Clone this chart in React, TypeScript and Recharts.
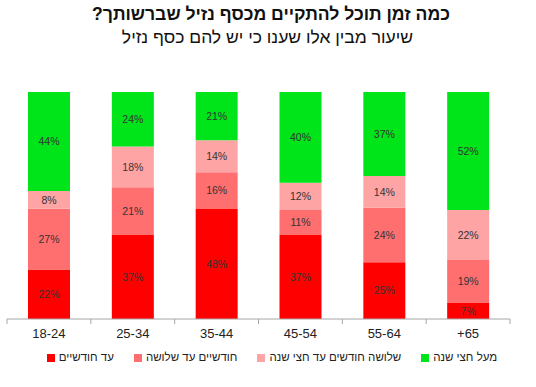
import React from 'react';
import { BarChart, Bar, XAxis, YAxis, Legend, LabelList } from 'recharts';

const ageGroups = ['18-24', '25-34', '35-44', '45-54', '55-64', '+65'];
const upToTwoMonths = [22, 37, 48, 37, 25, 7];
const twoToThreeMonths = [27, 21, 16, 11, 24, 19];
const threeToSixMonths = [8, 18, 14, 12, 14, 22];
const overSixMonths = [44, 24, 21, 40, 37, 52];

const seriesNames = ['עד חודשיים', 'חודשיים עד שלושה', 'שלושה חודשים עד חצי שנה', 'מעל חצי שנה'];
const seriesColors = ['#ff0000', '#ff6f6f', '#ffa4a4', '#00e41a'];

const title = 'כמה זמן תוכל להתקיים מכסף נזיל שברשותך?';
const subtitle = 'שיעור מבין אלו שענו כי יש להם כסף נזיל';

const data = ageGroups.map((age, i) => ({
  age,
  s0: upToTwoMonths[i],
  s1: twoToThreeMonths[i],
  s2: threeToSixMonths[i],
  s3: overSixMonths[i],
}));

const WIDTH = 536;
const HEIGHT = 387;
const margin = { top: 92, right: 26, bottom: 14, left: 7 };
const step = (WIDTH - margin.left - margin.right) / ageGroups.length;

// Excel style: tick marks sit between categories, labels in the middle
function AgeTick(props: any) {
  const { x, y, payload, index } = props;
  return (
    <g>
      <line x1={x - step / 2} x2={x - step / 2} y1={y} y2={y + 5} stroke="#a6a6a6" />
      {index === ageGroups.length - 1 && (
        <line x1={x + step / 2} x2={x + step / 2} y1={y} y2={y + 5} stroke="#a6a6a6" />
      )}
      <text x={x} y={y + 19} textAnchor="middle" fontSize={13} fill="#222" fontFamily="Liberation Sans, Arial, sans-serif">
        {payload.value}
      </text>
    </g>
  );
}

export default function App() {
  return (
    <div style={{ position: 'absolute', left: 0, top: 0, width: WIDTH, height: HEIGHT, background: '#fff', fontFamily: 'Liberation Sans, Arial, sans-serif' }}>
      <div style={{ position: 'absolute', top: 4, left: 0, width: 542, textAlign: 'center', direction: 'rtl', fontSize: 17.6, fontWeight: 'bold', color: '#111' }}>
        {title}
      </div>
      <div style={{ position: 'absolute', top: 27, left: 0, width: 535, textAlign: 'center', direction: 'rtl', fontSize: 17.5, color: '#111' }}>
        {subtitle}
      </div>
      <BarChart width={WIDTH} height={HEIGHT} data={data} margin={margin} stackOffset="expand">
        <XAxis
          dataKey="age"
          stroke="#a6a6a6"
          tickLine={false}
          tickSize={0}
          tickMargin={0}
          height={30}
          tick={<AgeTick />}
          interval={0}
        />
        <YAxis hide domain={[0, 1]} />
        <Legend
          verticalAlign="bottom"
          height={24}
          iconType="square"
          iconSize={8}
          itemSorter="dataKey"
          wrapperStyle={{ fontSize: 11.5, color: '#222', left: 0, bottom: 12, width: WIDTH, direction: 'ltr', paddingLeft: 14 }}
          formatter={(value: string) => (
            <span style={{ color: '#222', paddingRight: 10, unicodeBidi: 'isolate' }}>{value}</span>
          )}
        />
        {['s0', 's1', 's2', 's3'].map((key, i) => (
          <Bar
            key={key}
            dataKey={key}
            name={seriesNames[i]}
            stackId="a"
            fill={seriesColors[i]}
            barSize={42}
            isAnimationActive={false}
          >
            <LabelList
              dataKey={key}
              position="center"
              formatter={(v: any) => `${v}%`}
              fill="#333"
              fontSize={10.5}
              fontFamily="Liberation Sans, Arial, sans-serif"
            />
          </Bar>
        ))}
      </BarChart>
    </div>
  );
}
